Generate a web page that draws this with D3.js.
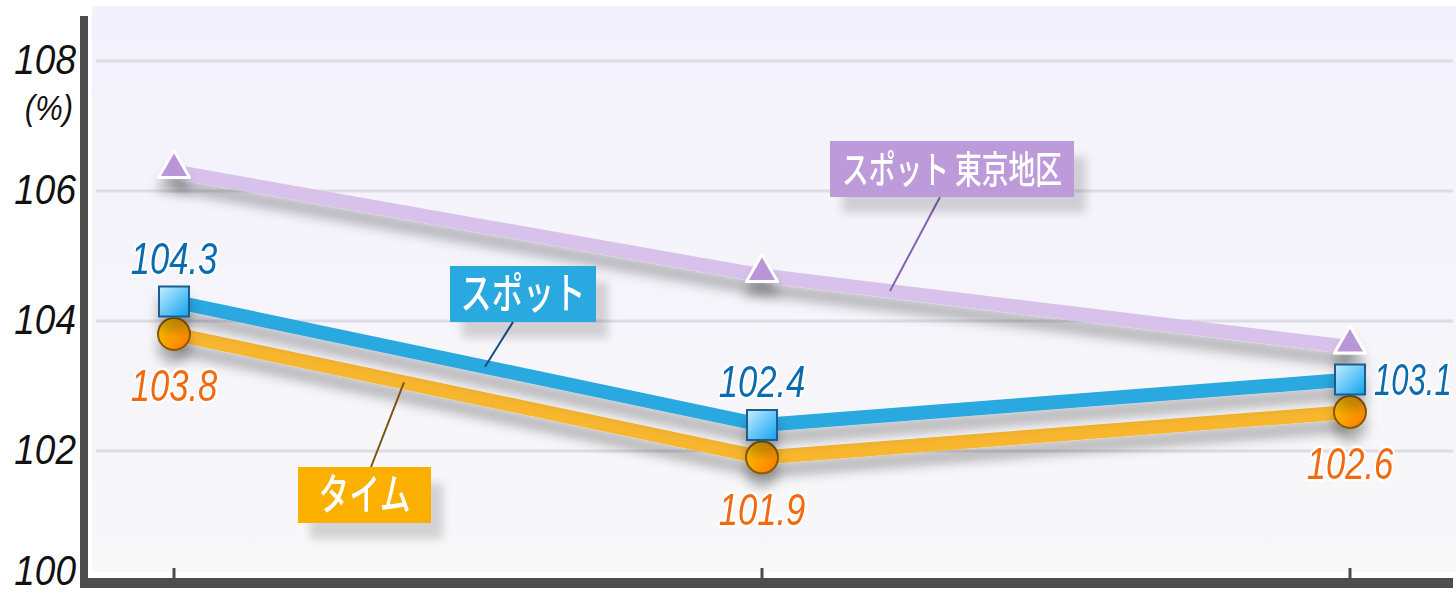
<!DOCTYPE html>
<html>
<head>
<meta charset="utf-8">
<script src="https://cdn.jsdelivr.net/npm/d3@7"></script>
<style>
  body { margin: 0; background: #ffffff; }
  svg { display: block; }
</style>
</head>
<body>
<svg id="chart"></svg>
<script>
// data
const categories = ["1", "2", "3"];
const spotValues = [104.3, 102.4, 103.1];
const timeValues = [103.8, 101.9, 102.6];
const tokyoValues = [106.3, 104.7, 103.6];
const yTicks = [100, 102, 104, 106, 108];
const seriesNames = ["スポット 東京地区", "スポット", "タイム"];

var size = { width: 1456, height: 593 };

var svg = d3.select("#chart")
    .attr("width", size.width)
    .attr("height", size.height);

var x = d3.scalePoint().domain(categories).range([174, 1350]);
var y = d3.scaleLinear().domain([100, 108]).range([581, 61]);

var defs = svg.append("defs");

var bg = defs.append("linearGradient").attr("id", "bg")
    .attr("x1", 0).attr("y1", 0).attr("x2", 0).attr("y2", 1);
bg.append("stop").attr("offset", "0%").attr("stop-color", "#f3f1fc");
bg.append("stop").attr("offset", "100%").attr("stop-color", "#f8f8f9");

var sq = defs.append("linearGradient").attr("id", "sq")
    .attr("x1", 0).attr("y1", 0).attr("x2", 1).attr("y2", 1);
sq.append("stop").attr("offset", "0%").attr("stop-color", "#c4efff");
sq.append("stop").attr("offset", "100%").attr("stop-color", "#10a2f0");

var ci = defs.append("linearGradient").attr("id", "ci")
    .attr("x1", 0).attr("y1", 0).attr("x2", 1).attr("y2", 1);
ci.append("stop").attr("offset", "0%").attr("stop-color", "#ffd400");
ci.append("stop").attr("offset", "100%").attr("stop-color", "#ff7300");

var sh = defs.append("filter").attr("id", "shadow")
    .attr("x", "-10%").attr("y", "-30%").attr("width", "120%").attr("height", "200%");
sh.append("feDropShadow").attr("dx", 0).attr("dy", 13).attr("stdDeviation", 6)
    .attr("flood-color", "#000").attr("flood-opacity", 0.27);

var boxSh = defs.append("filter").attr("id", "boxshadow")
    .attr("x", "-20%").attr("y", "-30%").attr("width", "150%").attr("height", "180%");
boxSh.append("feDropShadow").attr("dx", 12).attr("dy", 16).attr("stdDeviation", 4)
    .attr("flood-color", "#000").attr("flood-opacity", 0.15);

// plot background
svg.append("rect")
    .attr("x", 92).attr("y", 6)
    .attr("width", size.width - 92).attr("height", 566)
    .attr("fill", "url(#bg)");

// grid lines
svg.append("g")
    .selectAll("line")
    .data(yTicks.filter(d => d > 100))
    .enter()
    .append("line")
    .attr("x1", 96).attr("x2", 1453)
    .attr("y1", d => y(d)).attr("y2", d => y(d))
    .attr("stroke", "#dddbe4")
    .attr("stroke-width", 3);

// tick labels (font squeezed horizontally to match the narrow face)
var tickFont = "'Liberation Sans', 'DejaVu Sans', sans-serif";
svg.append("g")
    .selectAll("text")
    .data(yTicks)
    .enter()
    .append("text")
    .attr("transform", d => "translate(76," + Math.min(y(d) + 13, 585) + ") scale(0.86,1)")
    .attr("text-anchor", "end")
    .attr("font-family", tickFont)
    .attr("font-style", "italic")
    .attr("font-size", 43)
    .attr("fill", "#111")
    .text(d => d);

svg.append("text")
    .attr("transform", "translate(73,120) scale(0.86,1)")
    .attr("text-anchor", "end")
    .attr("font-family", tickFont)
    .attr("font-style", "italic")
    .attr("font-size", 36)
    .attr("fill", "#111")
    .text("(%)");

// series lines
var line = d3.line().x((d, i) => x(categories[i])).y(d => y(d));

var lineData = [
    { values: tokyoValues, color: "#d8c2eb" },
    { values: timeValues, color: "#f8b62d" },
    { values: spotValues, color: "#29a8e0" }
];

lineData.forEach(s => {
    svg.append("path")
        .attr("d", line(s.values))
        .attr("fill", "none")
        .attr("stroke", s.color)
        .attr("stroke-width", 14)
        .attr("stroke-linejoin", "round")
        .attr("filter", "url(#shadow)");
});

// markers
var tri = d3.symbol().type(d3.symbolTriangle).size(420);
svg.append("g")
    .attr("filter", "url(#shadow)")
    .selectAll("path")
    .data(tokyoValues)
    .enter()
    .append("path")
    .attr("d", tri)
    .attr("transform", (d, i) => "translate(" + x(categories[i]) + "," + (y(d) - 3) + ")")
    .attr("fill", "#b996d8")
    .attr("stroke", "#ffffff")
    .attr("stroke-width", 3)
    .attr("stroke-linejoin", "round");

svg.append("g")
    .attr("filter", "url(#shadow)")
    .selectAll("circle")
    .data(timeValues)
    .enter()
    .append("circle")
    .attr("cx", (d, i) => x(categories[i]))
    .attr("cy", d => y(d))
    .attr("r", 16)
    .attr("fill", "url(#ci)")
    .attr("stroke", "#8a5a08")
    .attr("stroke-width", 2);

svg.append("g")
    .attr("filter", "url(#shadow)")
    .selectAll("rect")
    .data(spotValues)
    .enter()
    .append("rect")
    .attr("x", (d, i) => x(categories[i]) - 15)
    .attr("y", d => y(d) - 15)
    .attr("width", 30).attr("height", 30)
    .attr("fill", "url(#sq)")
    .attr("stroke", "#1b5c8e")
    .attr("stroke-width", 2);

// value labels
function valueLabel(px, py, anchor, color, txt, sx) {
    svg.append("text")
        .attr("transform", "translate(" + px + "," + py + ") scale(" + sx + ",1)")
        .attr("text-anchor", anchor)
        .attr("font-family", tickFont)
        .attr("font-style", "italic")
        .attr("font-size", 45)
        .attr("fill", color)
        .attr("stroke", "#ffffff")
        .attr("stroke-width", 5)
        .attr("stroke-linejoin", "round")
        .attr("paint-order", "stroke")
        .text(txt);
}

spotValues.forEach((v, i) => {
    if (i === categories.length - 1) {
        valueLabel(x(categories[i]) + 24, y(v) + 15, "start", "#0b6bb0", v.toFixed(1), 0.69);
    } else {
        valueLabel(x(categories[i]), y(v) - 28, "middle", "#0b6bb0", v.toFixed(1), 0.77);
    }
});
timeValues.forEach((v, i) => {
    valueLabel(x(categories[i]), y(v) + 67, "middle", "#f26a10", v.toFixed(1), 0.77);
});

// series name boxes with leader lines
function yAt(values, px) {
    var xs = categories.map(c => x(c));
    var i = px < xs[1] ? 0 : 1;
    var t = (px - xs[i]) / (xs[i + 1] - xs[i]);
    return y(values[i] + (values[i + 1] - values[i]) * t);
}

var boxes = [
    { name: seriesNames[0], x: 830, y: 141, w: 244, h: 56, fill: "#bd9bda", lead: "#8663b2",
      fromX: 940, fromY: 197, toX: 890, values: tokyoValues, fs: 38, tw: 220 },
    { name: seriesNames[1], x: 450, y: 266, w: 146, h: 56, fill: "#29a8e0", lead: "#154f82",
      fromX: 513, fromY: 322, toX: 485, values: spotValues, fs: 43, tw: 125 },
    { name: seriesNames[2], x: 298, y: 467, w: 133, h: 56, fill: "#fbb000", lead: "#7a5410",
      fromX: 371, fromY: 467, toX: 404, values: timeValues, fs: 43, tw: 92 }
];

boxes.forEach(b => {
    svg.append("line")
        .attr("x1", b.fromX).attr("y1", b.fromY)
        .attr("x2", b.toX).attr("y2", yAt(b.values, b.toX))
        .attr("stroke", b.lead)
        .attr("stroke-width", 2);
    svg.append("rect")
        .attr("x", b.x).attr("y", b.y)
        .attr("width", b.w).attr("height", b.h)
        .attr("fill", b.fill)
        .attr("filter", "url(#boxshadow)");
    svg.append("text")
        .attr("x", b.x + b.w / 2)
        .attr("y", b.y + b.h / 2 + b.fs * 0.36)
        .attr("text-anchor", "middle")
        .attr("font-family", "'Noto Sans CJK JP', sans-serif")
        .attr("font-weight", 500)
        .attr("font-size", b.fs)
        .attr("fill", "#ffffff")
        .attr("textLength", b.tw)
        .attr("lengthAdjust", "spacingAndGlyphs")
        .text(b.name);
});

// axes
svg.append("rect").attr("x", 80).attr("y", 16).attr("width", 8).attr("height", 572).attr("fill", "#4d4d4d");
svg.append("rect").attr("x", 80).attr("y", 578).attr("width", 1373).attr("height", 10).attr("fill", "#4d4d4d");
svg.append("g")
    .selectAll("line")
    .data(categories)
    .enter()
    .append("line")
    .attr("x1", d => x(d)).attr("x2", d => x(d))
    .attr("y1", 568).attr("y2", 578)
    .attr("stroke", "#4d4d4d")
    .attr("stroke-width", 3);
</script>
</body>
</html>
